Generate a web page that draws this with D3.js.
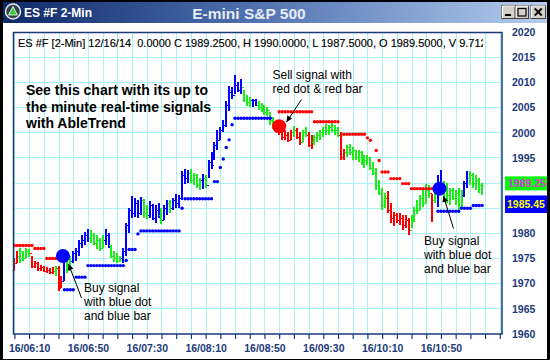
<!DOCTYPE html>
<html><head><meta charset="utf-8">
<script src="https://cdn.jsdelivr.net/npm/d3@7"></script>
<style>html,body{margin:0;padding:0;background:#000;}svg{display:block;}</style>
</head><body>
<svg id="c" width="550" height="360"></svg>
<script>
// ---------- DATA ----------
const symbolTitle = "ES #F 2-Min";
const chartTitle = "E-mini S&P 500";
const headerPrefix = "ES #F [2-Min] 12/16/14  0.0000";
const headerVolume = "9.7120";

// one bar every 2 minutes starting 06:00 (bar i -> minute 2*i)
const barHigh = [
 1975.0,1976.5,1977.0,1976.5,1977.0,1976.8,1975.5,1974.5,1974.2,1973.7,
 1973.5,1973.2,1973.0,1973.2,1973.5,1973.5,1971.5,1975.5,1975.2,1975.5,
 1976.5,1977.0,1978.5,1979.5,1980.2,1980.8,1980.5,1980.0,1979.5,1979.0,
 1979.5,1980.8,1980.0,1977.5,1976.5,1976.0,1975.5,1977.0,1982.0,1985.0,
 1987.4,1987.0,1986.5,1987.2,1986.8,1985.5,1986.4,1985.8,1985.5,1986.0,
 1985.0,1985.5,1986.5,1986.5,1987.0,1987.8,1987.5,1992.4,1992.8,1992.5,
 1992.7,1992.0,1991.8,1991.0,1991.7,1991.5,1994.4,1996.1,1998.0,2000.4,
 2001.0,2002.4,2006.3,2009.3,2009.0,2011.3,2010.0,2010.5,2008.5,2007.5,
 2007.0,2006.7,2006.7,2006.3,2005.8,2005.5,2005.0,2004.0,2003.0,2002.0,
 2001.5,2001.0,2000.5,2000.0,2000.5,2001.3,2000.8,2000.0,2000.5,2001.0,
 2000.0,1999.5,1999.5,2000.0,2000.5,2001.0,2001.7,2001.5,2002.0,2001.5,
 2001.0,2000.0,1996.7,1997.4,1997.7,1997.0,1996.5,1996.5,1996.2,1995.5,
 1995.5,1995.0,1994.0,1993.0,1990.5,1989.0,1988.0,1988.4,1986.0,1984.2,
 1984.0,1984.0,1983.5,1983.5,1983.0,1983.5,1985.2,1986.5,1987.5,1988.5,
 1989.8,1989.5,1987.8,1988.8,1991.5,1992.5,1990.4,1990.0,1989.0,1989.0,
 1988.5,1989.0,1988.5,1990.4,1992.4,1992.4,1992.0,1991.5,1991.0,1990.0];
const barLow = [
 1972.5,1974.0,1974.0,1974.5,1975.0,1975.2,1973.0,1973.0,1972.5,1972.5,
 1972.2,1972.0,1971.8,1971.8,1971.5,1968.5,1969.0,1970.5,1972.0,1972.5,
 1974.0,1974.5,1975.5,1977.0,1977.5,1978.2,1978.0,1977.5,1976.8,1976.5,
 1977.0,1977.5,1977.0,1975.0,1974.2,1974.0,1974.2,1974.0,1975.5,1980.0,
 1983.0,1983.2,1983.0,1983.5,1983.0,1982.8,1983.0,1982.5,1982.0,1983.0,
 1981.8,1982.5,1983.5,1984.0,1984.5,1985.0,1985.0,1986.5,1989.8,1990.0,
 1990.0,1989.5,1989.0,1988.5,1988.8,1989.0,1991.0,1992.7,1994.4,1996.4,
 1998.4,2000.0,2001.0,2004.3,2006.7,2007.6,2008.0,2007.7,2006.0,2005.3,
 2005.0,2005.0,2005.3,2004.5,2004.0,2003.5,2003.3,2001.5,2000.7,2000.0,
 1999.5,1998.5,1998.4,1998.0,1998.5,1999.0,1998.7,1997.5,1998.0,1999.0,
 1997.0,1996.7,1997.5,1998.0,1998.5,1999.0,1999.5,1999.5,2000.0,1999.5,
 1999.0,1994.4,1994.5,1995.0,1995.5,1994.5,1994.5,1994.0,1993.5,1993.0,
 1993.5,1992.5,1991.5,1988.5,1987.5,1984.5,1985.0,1984.0,1982.0,1981.3,
 1982.0,1981.5,1980.5,1981.0,1979.6,1981.0,1982.2,1983.8,1984.5,1985.2,
 1986.0,1987.0,1982.2,1986.0,1985.2,1988.0,1987.0,1986.0,1985.5,1986.5,
 1985.5,1984.0,1985.0,1987.1,1989.0,1989.5,1989.0,1988.5,1988.0,1987.5];
const barClose = [
 1974.0,1975.5,1976.5,1975.0,1976.5,1976.0,1973.5,1974.0,1973.0,1973.2,
 1972.5,1972.7,1972.2,1972.5,1973.0,1969.0,1970.5,1975.0,1973.0,1974.5,
 1976.0,1976.5,1978.0,1978.5,1979.5,1979.0,1979.5,1978.0,1978.5,1977.0,
 1978.5,1979.5,1977.5,1975.5,1975.0,1974.5,1975.0,1976.5,1981.5,1984.5,
 1984.0,1986.0,1984.0,1986.5,1984.0,1983.5,1985.5,1983.0,1984.5,1983.5,
 1982.5,1985.0,1986.0,1985.0,1986.5,1986.0,1987.0,1991.5,1991.0,1992.0,
 1990.5,1991.5,1989.5,1990.5,1991.0,1989.5,1994.0,1993.5,1997.5,1998.5,
 2000.5,2001.5,2005.5,2008.0,2007.5,2009.5,2008.5,2009.0,2006.5,2006.0,
 2006.5,2006.5,2005.5,2005.0,2005.5,2004.0,2004.5,2002.5,2001.5,2000.5,
 2000.0,1999.0,1999.5,1998.5,2000.0,2000.5,1999.0,1998.0,2000.0,1999.5,
 1997.5,1998.0,1999.0,1999.5,2000.0,2000.5,2000.5,2001.0,2000.5,2000.5,
 1999.5,1995.0,1996.0,1997.0,1996.0,1996.5,1995.0,1996.0,1994.0,1994.5,
 1995.0,1993.0,1992.0,1989.5,1988.0,1985.5,1987.0,1984.5,1983.0,1983.5,
 1982.5,1983.0,1981.5,1982.5,1980.5,1983.0,1984.5,1984.5,1987.0,1986.0,
 1988.5,1988.0,1986.5,1988.0,1989.5,1989.0,1988.5,1987.5,1988.5,1987.0,
 1988.0,1985.0,1987.5,1990.0,1991.0,1991.5,1990.0,1990.5,1989.5,1989.25];
// r = sell bar, g = neutral bar, b = buy bar
const barColor = ("rrggggrrrr"+"rrrrgrrbgg"+"bbbbbbgggg"+"gbbggggbbb"+"bbbbggbbbb"+
  "gbbgbbbbbb"+"ggggbgbbbb"+"bbbbbbbbgg"+"gbbggggggr"+"rrrrrgrrgg"+
  "rrgggggggg"+"grrggggggg"+"gggggggrrr"+"rrrrrggggg"+"ggrgbbgggg"+"gggbbggggg").split("");
const stopLevel = [
 1977.5,1977.5,1977.5,1977.5,1977.5,1977.5,1977.5,1976.9,1976.9,1976.9,
 1976.9,1974.9,1974.9,1974.9,1974.9,1974.9,null,1968.7,1968.7,1968.7,
 1968.7,1971.2,1971.2,1971.2,1971.2,1973.5,1973.5,1973.5,1973.5,1973.5,
 1973.5,1973.5,1973.5,1973.5,1973.5,1973.5,1973.5,1973.5,1974.5,1976.7,
 1976.7,1976.7,1979.8,1980.4,1980.4,1980.4,1980.4,1980.4,1980.4,1980.4,
 1980.4,1980.4,1980.4,1980.4,1980.4,1980.4,1980.4,1984.9,1986.8,1986.8,
 1986.8,1986.8,1986.8,1986.8,1986.8,1986.8,1986.8,1986.8,1990.2,1990.2,
 1993.0,1994.7,1997.0,1998.5,2001.5,2002.8,2002.8,2002.8,2002.8,2002.8,
 2002.8,2002.8,2002.8,2002.8,2002.8,2002.8,2002.8,2002.8,null,null,
 2004.1,2004.1,2004.1,2004.1,2004.1,2004.1,2004.1,2004.1,2004.1,2004.1,
 2004.1,2004.1,2002.1,2002.1,2002.1,2002.1,2002.1,2002.1,2002.1,2002.1,
 2002.1,null,1999.6,1999.6,1999.6,1999.6,1999.6,1999.6,1999.6,1999.6,
 1998.9,1998.4,null,1996.4,1994.4,1992.1,1992.1,1992.1,1990.8,1990.8,
 1990.8,1990.8,1989.8,1989.8,1989.8,1988.8,1988.8,1988.8,1988.8,1988.8,
 1988.8,1988.8,1988.8,1988.8,1984.3,1984.3,1984.3,1984.3,1984.3,1984.3,
 1984.3,1984.3,1984.9,1984.9,1984.9,1984.9,1985.45,1985.45,1985.45,1985.45];
// trend modes (stop colour) start at these bars
const modeStartBar = [0, 17, 90, 144];
const modeColor = ["r", "b", "r", "b"];
// big signal dots
const signalMinute = [33, 180, 289];
const signalPrice = [1975.4, 2001.2, 1988.8];
const signalColor = ["b", "r", "b"];

const yTicks = [1960,1965,1970,1975,1980,1985,1990,1995,2000,2005,2010,2015,2020];
const xTickMinutes = [0,10,20,30,40,50,60,70,80,90,100,110,120,130,140,150,160,170,180,190,200,210,220,230,240,250,260,270,280,290,300,310,320,330];
const xLabelMinutes = [10,50,90,130,170,210,250,290];
const xLabels = ["16/06:10","16/06:50","16/07:30","16/08:10","16/08:50","16/09:30","16/10:10","16/10:50"];

const promoLines = ["See this chart with its up to","the minute real-time signals","with AbleTrend"];
const sellNote = ["Sell signal with","red dot & red bar"];
const buyNote = ["Buy signal","with blue dot","and blue bar"];

// ---------- DRAW ----------
const COL = {r:"#ff0000", g:"#1aee1a", b:"#0000ff"};
const NAVY = "#1b3a7a";
const GRID = "#a8f2f2";
const FONT = "Arial, 'Liberation Sans', sans-serif";

const svg = d3.select("#c");
const defs = svg.append("defs");

svg.append("rect").attr("width",550).attr("height",360).attr("fill","#000");
svg.append("rect").attr("x",3).attr("y",23).attr("width",544).attr("height",336).attr("fill","#fff");

// title bar
const lg = defs.append("linearGradient").attr("id","tb").attr("x1",0).attr("x2",1).attr("y1",0).attr("y2",0);
lg.append("stop").attr("offset",0).attr("stop-color","#0e2868");
lg.append("stop").attr("offset",0.45).attr("stop-color","#4e6fae");
lg.append("stop").attr("offset",1).attr("stop-color","#b4cdee");
svg.append("rect").attr("x",3).attr("y",2).attr("width",544).attr("height",21).attr("fill","url(#tb)");
// icon
svg.append("circle").attr("cx",13).attr("cy",11.5).attr("r",7.5).attr("fill","#34424e").attr("stroke","#e8e8e8").attr("stroke-width",1.5);
svg.append("path").attr("d","M13,6.5 L17.5,15 L8.5,15 Z").attr("fill","#3cc83c").attr("stroke","#fff").attr("stroke-width",0.8);
svg.append("text").attr("x",24).attr("y",17).text(symbolTitle)
  .attr("font-family",FONT).attr("font-weight","bold").attr("font-size",12).attr("fill","#fff");
svg.append("text").attr("x",249).attr("y",19).attr("text-anchor","middle").text(chartTitle)
  .attr("font-family",FONT).attr("font-weight","bold").attr("font-size",15.5).attr("fill","#e6ecf6");
// window buttons
const btns = [{x:502,w:13,g:"min"},{x:515.5,w:13,g:"max"},{x:531,w:14.5,g:"close"}];
btns.forEach(b=>{
  svg.append("rect").attr("x",b.x).attr("y",5.5).attr("width",b.w).attr("height",13).attr("fill","#d4d0c8").attr("stroke","#404040").attr("stroke-width",1);
  svg.append("path").attr("d",`M${b.x+0.5},${18} V6 H${b.x+b.w}`).attr("fill","none").attr("stroke","#fff").attr("stroke-width",1);
  const cx=b.x+b.w/2;
  if(b.g==="min") svg.append("rect").attr("x",cx-3.5).attr("y",14).attr("width",6).attr("height",2).attr("fill","#000");
  if(b.g==="max") svg.append("rect").attr("x",cx-4).attr("y",8.5).attr("width",8).attr("height",7.5).attr("fill","none").attr("stroke","#000").attr("stroke-width",1.2);
  if(b.g==="close") svg.append("path").attr("d",`M${cx-3.5},8.5 L${cx+3.5},15.5 M${cx+3.5},8.5 L${cx-3.5},15.5`).attr("stroke","#000").attr("stroke-width",1.8);
});

// scales
const x = d3.scaleLinear().domain([0,330]).range([14.4,499.8]);
const y = d3.scaleLinear().domain([1960,2020]).range([333.5,31.7]);
const PL=13.5, PR=502, PT=32.5, PB=334;

defs.append("clipPath").attr("id","pc").append("rect").attr("x",PL).attr("y",PT).attr("width",PR-PL).attr("height",PB-PT);
const plot = svg.append("g").attr("clip-path","url(#pc)");

// grid
plot.selectAll("line.vg").data(xTickMinutes).join("line")
  .attr("x1",d=>Math.round(x(d))+0.5).attr("x2",d=>Math.round(x(d))+0.5)
  .attr("y1",PT).attr("y2",PB).attr("stroke",GRID).attr("stroke-width",1);
plot.selectAll("line.hg").data(yTicks).join("line")
  .attr("y1",d=>Math.round(y(d))+0.5).attr("y2",d=>Math.round(y(d))+0.5)
  .attr("x1",PL).attr("x2",PR).attr("stroke",GRID).attr("stroke-width",1);

// header text (clipped)
defs.append("clipPath").attr("id","hc").append("rect").attr("x",14).attr("y",34).attr("width",469).attr("height",16);
const n = barClose.length-1;
const f4 = d3.format(".4f");
const headerText = `${headerPrefix} C ${f4(barClose[n])}, H ${f4(barHigh[n])}, L ${f4(barLow[n])}, O ${f4(barClose[n-1])}, V ${headerVolume}`;
svg.append("text").attr("clip-path","url(#hc)").attr("x",18).attr("y",46.5).text(headerText)
  .attr("font-family",FONT).attr("font-size",11).attr("fill","#000").attr("stroke","#000").attr("stroke-width",0.15)
  .style("white-space","pre");

// bars (pixel-snapped)
const px = m => Math.round(x(m));
const py = v => Math.round(y(v))+0.5;
const bars = barHigh.map((h,i)=>({i, m:2*i, h, l:barLow[i], c:barClose[i], o: i?barClose[i-1]:barClose[i], col:barColor[i]}));
const bg = plot.selectAll("g.bar").data(bars).join("g").attr("stroke",d=>COL[d.col]).attr("shape-rendering","crispEdges");
bg.append("line").attr("x1",d=>px(d.m)).attr("x2",d=>px(d.m)).attr("y1",d=>Math.round(y(d.h))).attr("y2",d=>Math.round(y(d.l))).attr("stroke-width",2);
bg.append("line").attr("x1",d=>px(d.m)-2).attr("x2",d=>px(d.m)).attr("y1",d=>py(d.o)).attr("y2",d=>py(d.o)).attr("stroke-width",1);
bg.append("line").attr("x1",d=>px(d.m)).attr("x2",d=>px(d.m)+2).attr("y1",d=>py(d.c)).attr("y2",d=>py(d.c)).attr("stroke-width",1);

// stop dots
function modeAt(i){ let c=modeColor[0]; modeStartBar.forEach((s,k)=>{ if(i>=s) c=modeColor[k]; }); return c; }
const stops = stopLevel.map((v,i)=>({i,m:2*i,v,col:modeAt(i)})).filter(d=>d.v!==null);
plot.selectAll("circle.stop").data(stops).join("circle")
  .attr("cx",d=>x(d.m)).attr("cy",d=>y(d.v)).attr("r",1.7).attr("fill",d=>COL[d.col]);

// signal dots
plot.selectAll("circle.sig").data(signalMinute.map((m,k)=>({m,p:signalPrice[k],c:signalColor[k]}))).join("circle")
  .attr("cx",d=>x(d.m)).attr("cy",d=>y(d.p)).attr("r",7).attr("fill",d=>COL[d.c]);

// plot border
svg.append("rect").attr("x",PL).attr("y",PT).attr("width",PR-PL).attr("height",PB-PT)
  .attr("fill","none").attr("stroke",NAVY).attr("stroke-width",1.5);

// annotations
const ann = svg.append("g").attr("font-family",FONT);
ann.selectAll("text.p").data(promoLines).join("text").attr("x",26).attr("y",(d,k)=>95+k*16.5)
  .text(d=>d).attr("font-weight","bold").attr("font-size",14).attr("fill","#000");
function note(lines,x0,y0){
  ann.append("g").selectAll("text").data(lines).join("text").attr("x",x0).attr("y",(d,k)=>y0+k*14)
    .text(d=>d).attr("font-size",12).attr("fill","#000");
}
note(sellNote,272.5,79.3);
note(buyNote,84,292);
note(buyNote,424,245);
defs.append("marker").attr("id","ah").attr("viewBox","0 0 10 10").attr("refX",10).attr("refY",5)
  .attr("markerWidth",7).attr("markerHeight",6).attr("markerUnits","userSpaceOnUse").attr("orient","auto")
  .append("path").attr("d","M0,0 L10,5 L0,10 Z").attr("fill","#000");
[[81.5,298,68.5,264],[301.5,99.5,286.5,122],[453.5,228.5,443.5,196]].forEach(a=>{
  ann.append("line").attr("x1",a[0]).attr("y1",a[1]).attr("x2",a[2]).attr("y2",a[3])
    .attr("stroke","#000").attr("stroke-width",1).attr("marker-end","url(#ah)");
});

// last-value boxes (cover the axis labels beneath them, as in the reference)
const lastStop = stopLevel[stopLevel.length-1];
const lastClose = barClose[n];
const boxes = [
  {v:lastClose, top:y(lastClose)-10, h:14, fill:"#00ff00", txt:"#e030e0", tx:508},
  {v:lastStop,  top:y(lastStop)-10,  h:17.5, fill:"#0000ff", txt:"#ffff00", tx:507}
];
const covered = t => boxes.some(b => y(t) > b.top-3 && y(t) < b.top+b.h+3);

// right axis (labels hidden under the value boxes are omitted)
const ya = svg.append("g").attr("transform","translate(512,0)")
  .call(d3.axisRight(y).tickValues(yTicks.filter(t=>!covered(t))).tickSize(0).tickPadding(0).tickFormat(d3.format("d")));
ya.select(".domain").remove();
ya.selectAll("text").attr("font-family",FONT).attr("font-weight","bold").attr("font-size",10.5).attr("fill",NAVY).attr("dy","0.36em");

// bottom axis
const labelOf = new Map(xLabelMinutes.map((m,k)=>[m,xLabels[k]]));
const xa = svg.append("g").attr("transform",`translate(0,${PB})`)
  .call(d3.axisBottom(x).tickValues(xTickMinutes).tickSize(5).tickPadding(5.5).tickFormat(d=>labelOf.get(d)||""));
xa.select(".domain").remove();
xa.selectAll("line").attr("stroke",NAVY).attr("stroke-width",1.2);
xa.selectAll("text").attr("font-family",FONT).attr("font-weight","bold").attr("font-size",10.5).attr("fill",NAVY);

const f2 = d3.format(".2f");
boxes.forEach(b=>{
  svg.append("rect").attr("x",505).attr("y",b.top).attr("width",45).attr("height",b.h).attr("fill",b.fill);
  svg.append("text").attr("x",b.tx).attr("y",b.top+b.h/2).attr("dy","0.36em").text(f2(b.v))
    .attr("font-family",FONT).attr("font-weight","bold").attr("font-size",10.5).attr("fill",b.txt);
});

// right frame edge
svg.append("rect").attr("x",547).attr("y",0).attr("width",3).attr("height",360).attr("fill","#000");
</script>
</body></html>
